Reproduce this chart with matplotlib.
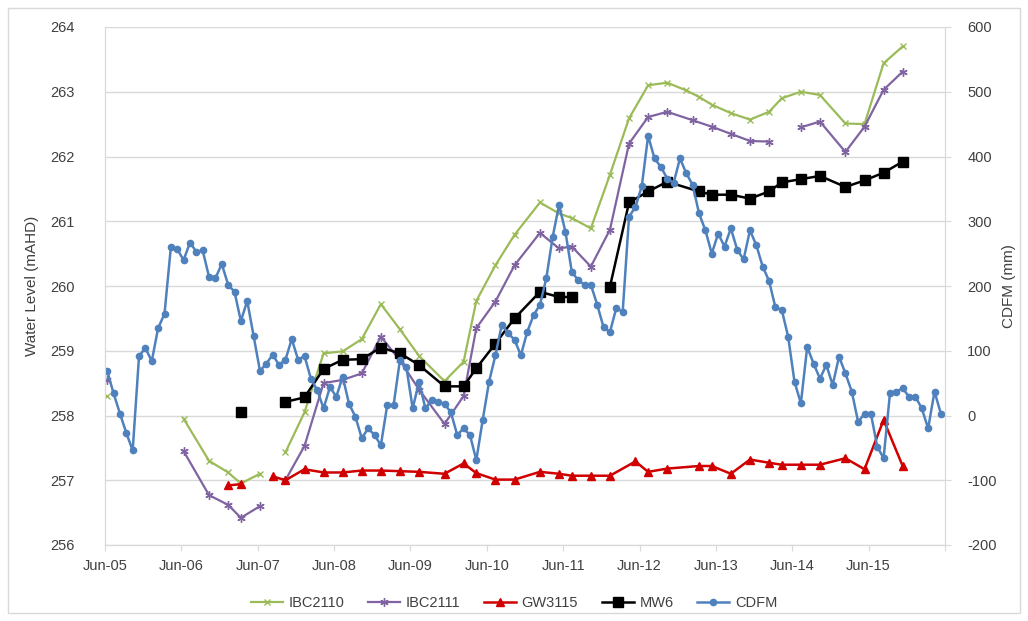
import numpy as np
import matplotlib.pyplot as plt
from matplotlib.patches import Rectangle

nan = np.nan

# months counted from Jun-05 (0 = Jun-05)
ibc2110_m = [0, 6, 12, 16, 19, 21, 24, 26, 28, 31, 34, 37, 40, 43, 46, 49, 53, 56, 58, 61, 64,
             68, 71, 73, 76, 79, 82, 85, 88, 91, 93, 95, 98, 101, 104, 106, 109, 112, 116,
             119, 122, 125]
ibc2110_v = [258.30, nan, 257.95, 257.30, 257.12, 256.95, 257.10, nan, 257.43, 258.05, 258.96,
             258.99, 259.18, 259.72, 259.33, 258.92, 258.53, 258.83, 259.77, 260.32, 260.79,
             261.29, 261.12, 261.05, 260.89, 261.72, 262.59, 263.10, 263.14, 263.02, 262.92,
             262.80, 262.67, 262.57, 262.69, 262.90, 263.00, 262.95, 262.51, 262.50, 263.44,
             263.70]

ibc2111_m = [0, 6, 12, 16, 19, 21, 24, 26, 28, 31, 34, 37, 40, 43, 46, 49, 53, 56, 58, 61, 64,
             68, 71, 73, 76, 79, 82, 85, 88, 92, 95, 98, 101, 104, 106, 109, 112, 116, 119,
             122, 125]
ibc2111_v = [258.55, nan, 257.45, 256.77, 256.62, 256.42, 256.60, nan, 257.00, 257.53, 258.50,
             258.55, 258.65, 259.22, 258.85, 258.40, 257.87, 258.30, 259.35, 259.76, 260.32,
             260.82, 260.58, 260.61, 260.30, 260.87, 262.20, 262.61, 262.69, 262.56, 262.46,
             262.35, 262.24, 262.23, nan, 262.45, 262.54, 262.07, 262.46, 263.03, 263.31]

gw3115_m = [19, 21, 23, 26, 28, 31, 34, 37, 40, 43, 46, 49, 53, 56, 58, 61, 64, 68, 71, 73, 76,
            79, 83, 85, 88, 93, 95, 98, 101, 104, 106, 109, 112, 116, 119, 122, 125]
gw3115_v = [256.92, 256.94, nan, 257.06, 257.00, 257.17, 257.12, 257.12, 257.15, 257.15, 257.14,
            257.13, 257.10, 257.26, 257.11, 257.01, 257.01, 257.13, 257.10, 257.07, 257.07,
            257.07, 257.29, 257.13, 257.18, 257.22, 257.22, 257.10, 257.32, 257.27, 257.24,
            257.24, 257.24, 257.34, 257.17, 257.93, 257.22]

mw6_m = [21, 24, 28, 31, 34, 37, 40, 43, 46, 49, 53, 56, 58, 61, 64, 68, 71, 73, 76, 79, 82, 85,
         88, 93, 95, 98, 101, 104, 106, 109, 112, 116, 119, 122, 125]
mw6_v = [258.06, nan, 258.21, 258.28, 258.72, 258.86, 258.87, 259.05, 258.96, 258.78, 258.45,
         258.45, 258.73, 259.11, 259.50, 259.91, 259.83, 259.83, nan, 259.99, 261.29, 261.46,
         261.61, 261.46, 261.41, 261.41, 261.35, 261.46, 261.60, 261.65, 261.70, 261.53,
         261.63, 261.75, 261.92]

# CDFM (mm), monthly from Jun-05
cdfm = [69, 34, 3, -27, -54, 92, 104, 84, 135, 157, 260, 257, 240, 267, 253, 255, 214, 212,
        234, 202, 191, 146, 177, 123, 69, 80, 94, 78, 86, 118, 86, 92, 57, 39, 11, 44, 29, 60,
        18, -2, -35, -20, -30, -46, 16, 16, 86, 75, 11, 52, 11, 24, 21, 18, 5, -30, -20, -30,
        -69, -7, 52, 93, 140, 127, 117, 93, 129, 155, 171, 212, 276, 325, 284, 222, 209, 202,
        202, 171, 136, 129, 166, 160, 307, 322, 354, 432, 397, 384, 366, 359, 397, 374, 356,
        312, 286, 250, 281, 261, 289, 256, 241, 286, 263, 230, 208, 167, 163, 122, 52, 19, 106,
        80, 57, 78, 47, 91, 65, 37, -10, 3, 3, -48, -66, 34, 37, 42, 29, 29, 11, -20, 37, 3]

tick_labels = ["Jun-05", "Jun-06", "Jun-07", "Jun-08", "Jun-09", "Jun-10", "Jun-11",
               "Jun-12", "Jun-13", "Jun-14", "Jun-15", ""]

start = 2005 + 5 / 12.0


def to_year(m):
    return start + (np.asarray(m, dtype=float) + 0.35) / 12.0


plt.rcParams['font.family'] = ['Liberation Sans Narrow', 'Liberation Sans', 'DejaVu Sans']
plt.rcParams['axes.unicode_minus'] = False
grey = '#d9d9d9'
txt = '#404040'

fig = plt.figure(figsize=(10.28, 6.21), dpi=100)
ax = fig.add_axes([105 / 1028, 1 - 545 / 621, 840 / 1028, 518 / 621])
ax2 = ax.twinx()

l1, = ax.plot(to_year(ibc2110_m), ibc2110_v, color='#9BBB59', lw=1.6, marker='x', ms=5,
              mew=1.0, label='IBC2110')
l2, = ax.plot(to_year(ibc2111_m), ibc2111_v, color='#8064A2', lw=1.6, marker=(6, 2, 0), ms=6,
              mew=1.0, label='IBC2111')
l3, = ax.plot(to_year(gw3115_m), gw3115_v, color='#D00000', lw=1.8, marker='^', ms=6,
              label='GW3115')
l4, = ax.plot(to_year(mw6_m), mw6_v, color='black', lw=1.8, marker='s', ms=6.5, label='MW6')
l5, = ax2.plot(to_year(np.arange(len(cdfm))), cdfm, color='#4F81BD', lw=1.8, marker='o',
               ms=4.5, label='CDFM')

ax.set_xlim(start, start + 11)
ax.set_ylim(256, 264)
ax2.set_ylim(-200, 600)
ax.set_yticks(np.arange(256, 265, 1))
ax2.set_yticks(np.arange(-200, 601, 100))
ax.set_xticks(start + np.arange(len(tick_labels)))
ax.set_xticklabels(tick_labels)

ax.grid(axis='y', color=grey, lw=1.0)
ax.set_axisbelow(True)
for a in (ax, ax2):
    for s in a.spines.values():
        s.set_color(grey)
    a.spines['top'].set_visible(False)
    a.tick_params(colors=grey, labelcolor=txt, labelsize=10.5, length=4)
ax.tick_params(axis='y', length=0, pad=22)
ax2.tick_params(axis='y', pad=12)
ax.tick_params(axis='x', pad=6)

ax.set_ylabel('Water Level (mAHD)', fontsize=11, color=txt, labelpad=8)
ax2.set_ylabel('CDFM (mm)', fontsize=11, color=txt, labelpad=4)

fig.legend(handles=[l1, l2, l3, l4, l5], loc='center', bbox_to_anchor=(0.5, 1 - 603 / 621),
           ncol=5, frameon=False, fontsize=10.5, handlelength=2.2, columnspacing=1.6,
           handletextpad=0.4, labelcolor=txt)

fig.patches.append(Rectangle((8 / 1028, 8 / 621), 1 - 16 / 1028, 1 - 16 / 621,
                             transform=fig.transFigure, fill=False, ec=grey, lw=1.0))

fig.savefig('out.png', dpi=100)
